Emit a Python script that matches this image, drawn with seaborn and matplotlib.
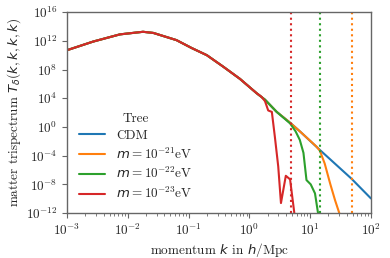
import numpy as np
import pandas as pd
import matplotlib
matplotlib.use("Agg")
import matplotlib.pyplot as plt
import seaborn as sns

# ---- data (log10 values) ----
cdm_logk = [-3.0, -2.57, -2.13, -1.75, -1.58, -1.2, -0.95, -0.70, -0.43, -0.155,
            0.12, 0.257, 0.45, 0.67, 0.83, 1.16, 1.68, 2.0]
cdm_logT = [10.7, 11.9, 12.9, 13.26, 13.1, 12.1, 11.0, 10.0, 8.4, 6.7,
            4.7, 3.8, 2.1, 0.6, -0.6, -3.2, -7.2, -9.95]

m21_logk = [-3.0, -2.57, -2.13, -1.75, -1.58, -1.2, -0.95, -0.70, -0.43, -0.155,
            0.12, 0.257, 0.45, 0.67, 0.83, 1.10, 1.16, 1.24, 1.33, 1.41, 1.48, 1.55]
m21_logT = [10.7, 11.9, 12.9, 13.26, 13.1, 12.1, 11.0, 10.0, 8.4, 6.7,
            4.7, 3.8, 2.1, 0.6, -0.6, -2.7, -3.3, -5.1, -7.9, -10.2, -12.0, -14.0]

m22_logk = [-3.0, -2.57, -2.13, -1.75, -1.58, -1.2, -0.95, -0.70, -0.43, -0.155,
            0.12, 0.257, 0.45, 0.67, 0.76, 0.83, 0.89, 0.94, 1.01, 1.08, 1.13, 1.18]
m22_logT = [10.7, 11.9, 12.9, 13.26, 13.1, 12.1, 11.0, 10.0, 8.4, 6.7,
            4.7, 3.8, 2.1, 0.5, -0.6, -1.8, -3.6, -7.4, -8.0, -9.25, -12.0, -14.0]

m23_logk = [-3.0, -2.57, -2.13, -1.75, -1.58, -1.2, -0.95, -0.70, -0.43, -0.155,
            0.12, 0.20, 0.257, 0.31, 0.37, 0.42, 0.475, 0.52, 0.60, 0.67, 0.74, 0.78]
m23_logT = [10.7, 11.9, 12.9, 13.26, 13.1, 12.1, 11.0, 10.0, 8.4, 6.7,
            4.7, 4.2, 3.6, 2.3, 2.1, -1.4, -5.5, -10.6, -6.8, -7.3, -12.0, -14.0]

labels = ["CDM", r"$m=10^{-21}$eV", r"$m=10^{-22}$eV", r"$m=10^{-23}$eV"]
colors = ["#1f77b4", "#ff7f0e", "#2ca02c", "#d62728"]
cutoff_k = [None, 48.0, 14.8, 4.8]

series = [(cdm_logk, cdm_logT), (m21_logk, m21_logT), (m22_logk, m22_logT), (m23_logk, m23_logT)]

rows = []
for lab, (lk, lt) in zip(labels, series):
    for a, b in zip(lk, lt):
        rows.append({"k": 10.0 ** a, "T": 10.0 ** b, "model": lab})
df = pd.DataFrame(rows)

# ---- style ----
sns.set_style("ticks")
plt.rcParams["font.family"] = ["cmr10"]
plt.rcParams["mathtext.fontset"] = "custom"
plt.rcParams["mathtext.rm"] = "cmr10"
plt.rcParams["mathtext.it"] = "DejaVu Sans:italic"
plt.rcParams["mathtext.bf"] = "cmr10:bold"
plt.rcParams["mathtext.fallback"] = "cm"
plt.rcParams["axes.formatter.use_mathtext"] = True
plt.rcParams["axes.unicode_minus"] = True

fig = plt.figure(figsize=(3.9, 2.58), dpi=100)
ax = fig.add_axes([0.172, 0.174, 0.779, 0.779])

for lab, col in zip(labels, colors):
    sns.lineplot(data=df[df["model"] == lab], x="k", y="T", ax=ax, color=col,
                 sort=False, estimator=None, lw=1.5, label=lab, legend=False)

for kc, col in zip(cutoff_k, colors):
    if kc is not None:
        ax.axvline(kc, color=col, ls=":", lw=1.5)

ax.set_xscale("log")
ax.set_yscale("log")
ax.set_xlim(1e-3, 1e2)
ax.set_ylim(1e-12, 1e16)
ax.set_yticks([10.0 ** e for e in range(-12, 17, 4)])
ax.yaxis.set_minor_locator(matplotlib.ticker.NullLocator())

for s in ax.spines.values():
    s.set_color("0.4")
    s.set_linewidth(1.0)
ax.tick_params(axis="both", which="major", labelsize=9.5, length=3.5, color="0.4")
ax.tick_params(axis="x", which="minor", length=2, color="0.4")

ax.set_xlabel(r"momentum $k$ in $h$/Mpc", fontsize=9.5, labelpad=2)
ax.set_ylabel(r"matter trispectrum $T_\delta(k,k,k,k)$", fontsize=9.5, labelpad=2)

handles = ax.lines[:4]
leg = ax.legend(handles, labels, title="Tree", loc="lower left", frameon=False,
                fontsize=9.5, title_fontsize=9.5, labelspacing=0.35,
                bbox_to_anchor=(0.0, 0.0))

fig.savefig("out.png", dpi=100)
